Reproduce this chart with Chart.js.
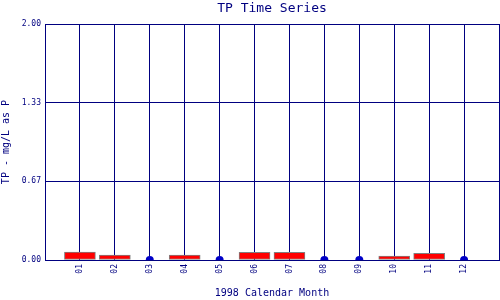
<!DOCTYPE html>
<html>
<head>
<meta charset="utf-8">
<script src="https://cdn.jsdelivr.net/npm/chart.js@4"></script>
<style>
  html, body { margin: 0; padding: 0; background: #fff; }
  #wrap { width: 500px; height: 300px; }
</style>
</head>
<body>
<div id="wrap"><canvas id="tpChart" width="500" height="300"></canvas></div>
<script>
// Datos
const monthLabels = ['01', '02', '03', '04', '05', '06', '07', '08', '09', '10', '11', '12'];
const monthNumbers = [1, 2, 3, 4, 5, 6, 7, 8, 9, 10, 11, 12];
const tpValues = [0.068, 0.042, null, 0.042, null, 0.065, 0.065, null, null, 0.034, 0.057, null];
const zeroValues = [null, null, 0, null, 0, null, null, 0, 0, null, null, 0];
const yTickValues = [0, 2 / 3, 4 / 3, 2];
const yTickLabels = ['0.00', '0.67', '1.33', '2.00'];

const navy = '#000080';
const mono = 'DejaVu Sans Mono';

const barPoints = [];
const dotPoints = [];
monthNumbers.forEach((m, i) => {
    if (tpValues[i] !== null) barPoints.push({ x: m, y: tpValues[i] });
    if (zeroValues[i] !== null) dotPoints.push({ x: m, y: zeroValues[i] });
});

new Chart(document.getElementById('tpChart').getContext('2d'), {
    type: 'bar',
    data: {
        datasets: [{
            type: 'scatter',
            data: dotPoints,
            pointRadius: 4,
            pointBackgroundColor: '#0000c8',
            pointBorderWidth: 0,
            order: 1
        }, {
            type: 'bar',
            data: barPoints,
            backgroundColor: '#ff0000',
            borderColor: '#808080',
            borderWidth: 1,
            borderSkipped: false,
            barThickness: 31,
            order: 2
        }]
    },
    options: {
        responsive: false,
        animation: false,
        layout: { padding: { top: 0, left: 0, bottom: 0, right: 1 }, autoPadding: false },
        plugins: {
            legend: { display: false },
            tooltip: { enabled: false },
            title: {
                display: true,
                text: 'TP Time Series',
                color: navy,
                fullSize: false,
                font: { family: mono, size: 13, weight: 'normal' },
                padding: { top: 1, bottom: 7.4 }
            }
        },
        scales: {
            x: {
                type: 'linear',
                min: 0,
                max: 13,
                offset: false,
                afterBuildTicks: function(scale) {
                    const t = [{ value: 0 }];
                    monthNumbers.forEach(m => t.push({ value: m }));
                    t.push({ value: 13 });
                    scale.ticks = t;
                },
                afterFit: function(scale) {
                    scale.height = 40;
                    scale.paddingLeft = 0;
                    scale.paddingRight = 0;
                },
                ticks: {
                    autoSkip: false,
                    minRotation: 90,
                    maxRotation: 90,
                    padding: 4,
                    color: navy,
                    font: { family: mono, size: 8 },
                    callback: function(value) {
                        const i = monthNumbers.indexOf(value);
                        return i >= 0 ? monthLabels[i] : '';
                    }
                },
                grid: { color: navy, lineWidth: 1, drawTicks: false, offset: false },
                border: { color: navy, width: 1 },
                title: {
                    display: true,
                    text: '1998 Calendar Month',
                    color: navy,
                    font: { family: mono, size: 10 },
                    padding: { top: 0, bottom: 1 }
                }
            },
            y: {
                min: 0,
                max: 2,
                afterBuildTicks: function(scale) {
                    scale.ticks = yTickValues.map(v => ({ value: v }));
                },
                afterFit: function(scale) { scale.width = 45; },
                ticks: {
                    padding: 4,
                    color: navy,
                    font: { family: mono, size: 8 },
                    callback: function(value) {
                        const i = yTickValues.indexOf(value);
                        return i >= 0 ? yTickLabels[i] : '';
                    }
                },
                grid: { color: navy, lineWidth: 1, drawTicks: false },
                border: { color: navy, width: 1 },
                title: {
                    display: true,
                    text: 'TP - mg/L as P',
                    color: navy,
                    font: { family: mono, size: 10 },
                    padding: { top: 0, bottom: 0 }
                }
            }
        }
    }
});
</script>
</body>
</html>
